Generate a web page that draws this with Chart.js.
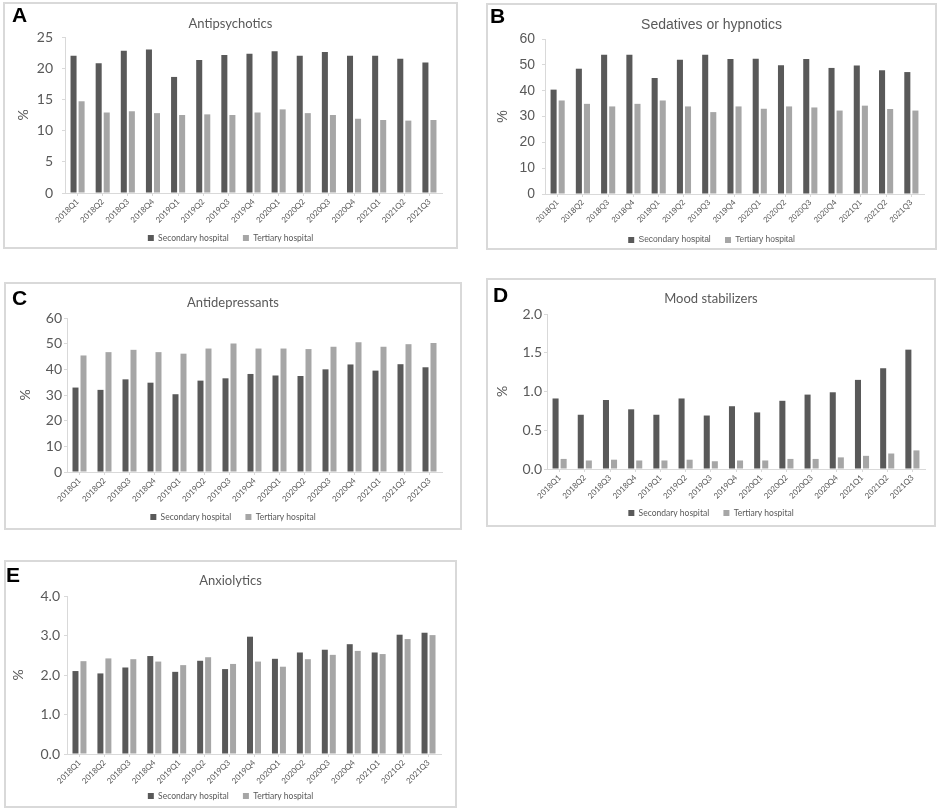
<!DOCTYPE html>
<html>
<head>
<meta charset="utf-8">
<script src="https://cdn.jsdelivr.net/npm/chart.js@4.4.1/dist/chart.umd.min.js"></script>
<style>
  body { margin: 0; background: #fff; width: 941px; height: 809px; position: relative; overflow: hidden; }
  .panel { position: absolute; border: 2px solid #d9d9d9; box-sizing: border-box; }
  .panel canvas { position: absolute; left: 0; top: 0; }
  .tag { position: absolute; font: bold 21px "Liberation Sans", Arial, sans-serif; line-height: 21px; color: #000; }
</style>
</head>
<body>
<script>
// quarters on the x axis
const quarters = ['2018Q1', '2018Q2', '2018Q3', '2018Q4', '2019Q1', '2019Q2', '2019Q3', '2019Q4',
  '2020Q1', '2020Q2', '2020Q3', '2020Q4', '2021Q1', '2021Q2', '2021Q3'];

// A - antipsychotics (%)
const antipsySecondary = [22.0, 20.8, 22.8, 23.0, 18.6, 21.3, 22.1, 22.3, 22.7, 22.0, 22.6, 22.0, 22.0, 21.5, 20.9];
const antipsyTertiary = [14.7, 12.9, 13.1, 12.8, 12.5, 12.6, 12.5, 12.9, 13.4, 12.8, 12.5, 11.9, 11.7, 11.6, 11.7];
const antipsyTicks = [0, 5, 10, 15, 20, 25];

// B - sedatives or hypnotics (%)
const sedSecondary = [40.4, 48.5, 53.9, 53.9, 44.9, 52.0, 53.9, 52.3, 52.4, 49.8, 52.3, 48.8, 49.7, 47.9, 47.2];
const sedTertiary = [36.2, 34.9, 33.9, 34.9, 36.2, 33.9, 31.7, 33.9, 33.0, 33.9, 33.5, 32.3, 34.2, 32.9, 32.3];
const sedTicks = [0, 10, 20, 30, 40, 50, 60];

// C - antidepressants (%)
const antidepSecondary = [32.9, 32.0, 36.1, 34.8, 30.3, 35.6, 36.5, 38.2, 37.6, 37.4, 40.0, 41.9, 39.5, 42.0, 40.8];
const antidepTertiary = [45.4, 46.7, 47.6, 46.7, 46.1, 48.1, 50.1, 48.1, 48.1, 47.9, 48.8, 50.6, 48.8, 49.8, 50.3];
const antidepTicks = [0, 10, 20, 30, 40, 50, 60];

// D - mood stabilizers (%)
const moodSecondary = [0.91, 0.70, 0.89, 0.77, 0.70, 0.91, 0.69, 0.81, 0.73, 0.88, 0.96, 0.99, 1.15, 1.30, 1.54];
const moodTertiary = [0.13, 0.11, 0.12, 0.11, 0.11, 0.12, 0.10, 0.11, 0.11, 0.13, 0.13, 0.15, 0.17, 0.20, 0.24];
const moodTicks = [0, 0.5, 1.0, 1.5, 2.0];

// E - anxiolytics (%)
const anxSecondary = [2.10, 2.04, 2.19, 2.48, 2.08, 2.36, 2.15, 2.97, 2.41, 2.57, 2.64, 2.78, 2.57, 3.02, 3.07];
const anxTertiary = [2.35, 2.42, 2.40, 2.34, 2.25, 2.45, 2.28, 2.34, 2.21, 2.40, 2.51, 2.61, 2.53, 2.91, 3.01];
const anxTicks = [0, 1.0, 2.0, 3.0, 4.0];

const seriesNames = ['Secondary hospital', 'Tertiary hospital'];

const panels = [
  { tag: 'A', title: 'Antipsychotics', sec: antipsySecondary, ter: antipsyTertiary, ticks: antipsyTicks, dec: 0, font: 'Lato' },
  { tag: 'B', title: 'Sedatives or hypnotics', sec: sedSecondary, ter: sedTertiary, ticks: sedTicks, dec: 0, font: 'Liberation Sans' },
  { tag: 'C', title: 'Antidepressants', sec: antidepSecondary, ter: antidepTertiary, ticks: antidepTicks, dec: 0, font: 'Lato' },
  { tag: 'D', title: 'Mood stabilizers', sec: moodSecondary, ter: moodTertiary, ticks: moodTicks, dec: 1, font: 'Lato' },
  { tag: 'E', title: 'Anxiolytics', sec: anxSecondary, ter: anxTertiary, ticks: anxTicks, dec: 1, font: 'Lato' }
];

// page geometry of each panel (box, plot area, title/legend rows, % label x, tick gap, letter)
const geometry = {
  A: { box: [3, 2, 455, 247], area: [65, 37, 442, 193], titleY: 24, legendY: 238, pctX: 23, gap: 12, tagXY: [12, 4] },
  B: { box: [486, 3, 451, 247], area: [545, 39, 924, 194], titleY: 25, legendY: 240, pctX: 503, gap: 10, tagXY: [490, 5] },
  C: { box: [4, 282, 458, 248], area: [67, 318, 442, 472], titleY: 303, legendY: 517, pctX: 25, gap: 5, tagXY: [12, 287] },
  D: { box: [486, 278, 450, 249], area: [547, 314, 925, 469], titleY: 299, legendY: 513, pctX: 502, gap: 5, tagXY: [493, 284] },
  E: { box: [4, 560, 453, 248], area: [67, 596, 441, 754], titleY: 581, legendY: 796, pctX: 18, gap: 7, tagXY: [6, 564] }
};

const darkGrey = '#595959';
const lightGrey = '#a6a6a6';
const axisGrey = '#d9d9d9';
const textGrey = '#595959';

// legend: the two series with an empty, transparent item between them as a gap
function legendItems(chart) {
  const items = Chart.defaults.plugins.legend.labels.generateLabels(chart);
  const gap = { text: '', fillStyle: 'rgba(0,0,0,0)', strokeStyle: 'rgba(0,0,0,0)', lineWidth: 0, hidden: false, datasetIndex: -1 };
  return [items[0], gap, items[1]];
}

function drawPanel(p) {
  const g = geometry[p.tag];
  const [bx, by, bw, bh] = g.box;
  const ix = bx + 2, iy = by + 2, W = bw - 4, H = bh - 4;

  const div = document.createElement('div');
  div.className = 'panel';
  div.style.left = bx + 'px'; div.style.top = by + 'px';
  div.style.width = bw + 'px'; div.style.height = bh + 'px';
  const canvas = document.createElement('canvas');
  canvas.width = W; canvas.height = H;
  div.appendChild(canvas);
  document.body.appendChild(div);

  const tag = document.createElement('div');
  tag.className = 'tag';
  tag.textContent = p.tag;
  tag.style.left = g.tagXY[0] + 'px'; tag.style.top = g.tagXY[1] + 'px';
  document.body.appendChild(tag);

  const [aL, aT, aR, aB] = g.area;
  const titleSize = p.tag === 'B' ? 14 : 13;
  const titleLH = titleSize * 1.2;
  const tPadTop = (g.titleY - iy) - titleLH / 2;
  const tPadBottom = (aT - iy) - tPadTop - titleLH;

  const legSize = 8.5, legPad = 2;
  const legH = legSize + legPad;
  const padBottom = (iy + H) - g.legendY - legSize / 2;
  const xH = (iy + H) - padBottom - legH - aB;
  const yW = aL - ix;
  const rightW = ix + W - aR;
  const pctSize = 14;
  const pctPad = (g.pctX - ix) - pctSize * 1.2 / 2;

  const t = p.ticks;
  new Chart(canvas, {
    type: 'bar',
    data: {
      labels: quarters,
      datasets: [
        { label: seriesNames[0], data: p.sec, backgroundColor: darkGrey, borderWidth: 0, barPercentage: 0.75, categoryPercentage: 0.64 },
        { label: seriesNames[1], data: p.ter, backgroundColor: lightGrey, borderWidth: 0, barPercentage: 0.75, categoryPercentage: 0.64 }
      ]
    },
    options: {
      responsive: false,
      animation: false,
      layout: { padding: { left: 0, right: 0, top: 0, bottom: padBottom } },
      plugins: {
        title: {
          display: true, text: p.title, color: textGrey,
          font: { family: p.font, size: titleSize, weight: 'normal' },
          padding: { top: tPadTop, bottom: tPadBottom }
        },
        legend: {
          position: 'bottom', maxHeight: legH,
          labels: { boxWidth: 6, boxHeight: 6, padding: legPad, color: textGrey, font: { family: p.font, size: legSize },
            generateLabels: legendItems }
        },
        tooltip: { enabled: false }
      },
      scales: {
        x: {
          grid: { display: true, drawOnChartArea: false, offset: false, tickLength: 3, color: axisGrey },
          border: { color: axisGrey },
          ticks: { minRotation: 45, maxRotation: 45, autoSkip: false, padding: 1, color: textGrey, font: { family: p.font, size: 8 } },
          afterFit: s => { s.height = xH; }
        },
        y: {
          min: t[0], max: t[t.length - 1],
          ticks: { stepSize: t[1] - t[0], padding: g.gap - 3, color: textGrey, font: { family: p.font, size: 14 },
            callback: v => Number(v).toFixed(p.dec) },
          grid: { drawOnChartArea: false, tickLength: 3, color: axisGrey },
          border: { color: axisGrey },
          title: { display: true, text: '%', color: textGrey, font: { family: p.font, size: pctSize }, padding: { top: pctPad, bottom: 0 } },
          afterFit: s => { s.width = yW; }
        },
        pad: {
          position: 'right', display: true,
          grid: { display: false }, ticks: { display: false }, border: { display: false },
          afterFit: s => { s.width = rightW; }
        }
      }
    }
  });
}

panels.forEach(drawPanel);
</script>
</body>
</html>
